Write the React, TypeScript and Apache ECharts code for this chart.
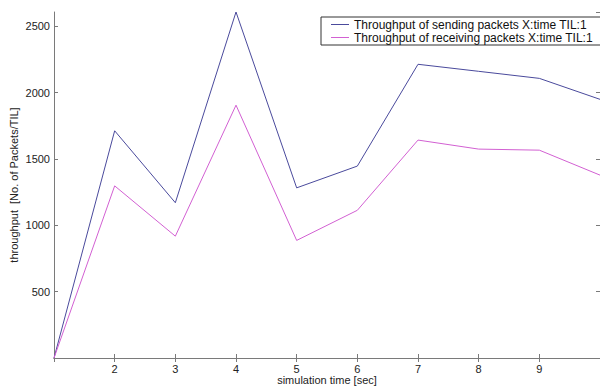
import React, { useEffect, useRef } from "react";
import * as echarts from "echarts";

const times = [1, 2, 3, 4, 5, 6, 7, 8, 9, 10];
const sending = [0, 1712, 1170, 2607, 1282, 1446, 2213, 2160, 2107, 1949];
const receiving = [0, 1297, 918, 1905, 886, 1113, 1642, 1574, 1566, 1378];
const yTicks = [500, 1000, 1500, 2000, 2500];
const xTickLabels = [2, 3, 4, 5, 6, 7, 8, 9];
const sendName = "Throughput of sending packets X:time TIL:1";
const recvName = "Throughput of receiving packets X:time TIL:1";

const FONT = "'Liberation Sans', Arial, sans-serif";
const SEND_COLOR = "#4a4a9c";
const RECV_COLOR = "#d260d2";

export default function App() {
  const ref = useRef<HTMLDivElement>(null);
  useEffect(() => {
    if (!ref.current) return;
    const chart = echarts.init(ref.current, undefined, { renderer: "svg" });
    const axisColor = "#7a7a7a";
    const labelStyle = { color: "#222", fontSize: 11, fontFamily: FONT };
    chart.setOption({
      animation: false,
      backgroundColor: "#ffffff",
      grid: {
        left: 54,
        top: 12,
        width: 546,
        height: 346,
        containLabel: false,
        outerBoundsMode: "none",
      },
      legend: {
        orient: "vertical",
        left: 321,
        top: 17,
        padding: [1, 10, 1, 10],
        itemGap: 0,
        itemWidth: 18,
        itemHeight: 1,
        borderColor: "#333",
        borderWidth: 1,
        borderRadius: 0,
        backgroundColor: "#fff",
        textStyle: { color: "#111", fontSize: 12, fontFamily: FONT, lineHeight: 13 },
        data: [
          { name: sendName, icon: "rect", itemStyle: { color: SEND_COLOR } },
          { name: recvName, icon: "rect", itemStyle: { color: RECV_COLOR } },
        ],
      },
      xAxis: [
        {
          type: "value",
          min: 1,
          max: 10,
          interval: 1,
          position: "bottom",
          name: "simulation time [sec]",
          nameLocation: "middle",
          nameGap: 16,
          nameMoveOverlap: false,
          nameTextStyle: { color: "#222", fontSize: 11, fontFamily: FONT },
          axisLine: { show: true, lineStyle: { color: axisColor, width: 1 } },
          axisTick: { show: true, inside: true, length: 4, lineStyle: { color: axisColor } },
          axisLabel: {
            ...labelStyle,
            margin: 5,
            formatter: (v: number) => (xTickLabels.includes(v) ? String(v) : ""),
          },
          splitLine: { show: false },
        },
        {
          type: "value",
          min: 1,
          max: 10,
          interval: 1,
          position: "top",
          axisLine: { show: true, lineStyle: { color: axisColor, width: 1 } },
          axisTick: { show: true, inside: true, length: 4, lineStyle: { color: axisColor } },
          axisLabel: { show: false },
          splitLine: { show: false },
        },
      ],
      yAxis: [
        {
          type: "value",
          min: 0,
          max: 2607,
          interval: 500,
          position: "left",
          name: "throughput  [No. of Packets/TIL]",
          nameLocation: "middle",
          nameGap: 35,
          nameMoveOverlap: false,
          nameTextStyle: { color: "#222", fontSize: 11, fontFamily: FONT },
          axisLine: { show: true, lineStyle: { color: axisColor, width: 1 } },
          axisTick: { show: true, inside: true, length: 4, lineStyle: { color: axisColor } },
          axisLabel: {
            ...labelStyle,
            margin: 4,
            showMaxLabel: false,
            formatter: (v: number) => (yTicks.includes(v) ? String(v) : ""),
          },
          splitLine: { show: false },
        },
        {
          type: "value",
          min: 0,
          max: 2607,
          interval: 500,
          position: "right",
          axisLine: { show: false },
          axisTick: { show: true, inside: true, length: 4, lineStyle: { color: axisColor } },
          axisLabel: { show: false },
          splitLine: { show: false },
        },
      ],
      series: [
        {
          name: sendName,
          type: "line",
          symbol: "none",
          xAxisIndex: 0,
          yAxisIndex: 0,
          lineStyle: { color: SEND_COLOR, width: 1 },
          itemStyle: { color: SEND_COLOR },
          data: times.map((t, i) => [t, sending[i]]),
        },
        {
          name: recvName,
          type: "line",
          symbol: "none",
          xAxisIndex: 0,
          yAxisIndex: 0,
          lineStyle: { color: RECV_COLOR, width: 1 },
          itemStyle: { color: RECV_COLOR },
          data: times.map((t, i) => [t, receiving[i]]),
        },
      ],
    });
    return () => chart.dispose();
  }, []);
  return (
    <div
      ref={ref}
      style={{ position: "fixed", left: 0, top: 0, width: 600, height: 387 }}
    />
  );
}
